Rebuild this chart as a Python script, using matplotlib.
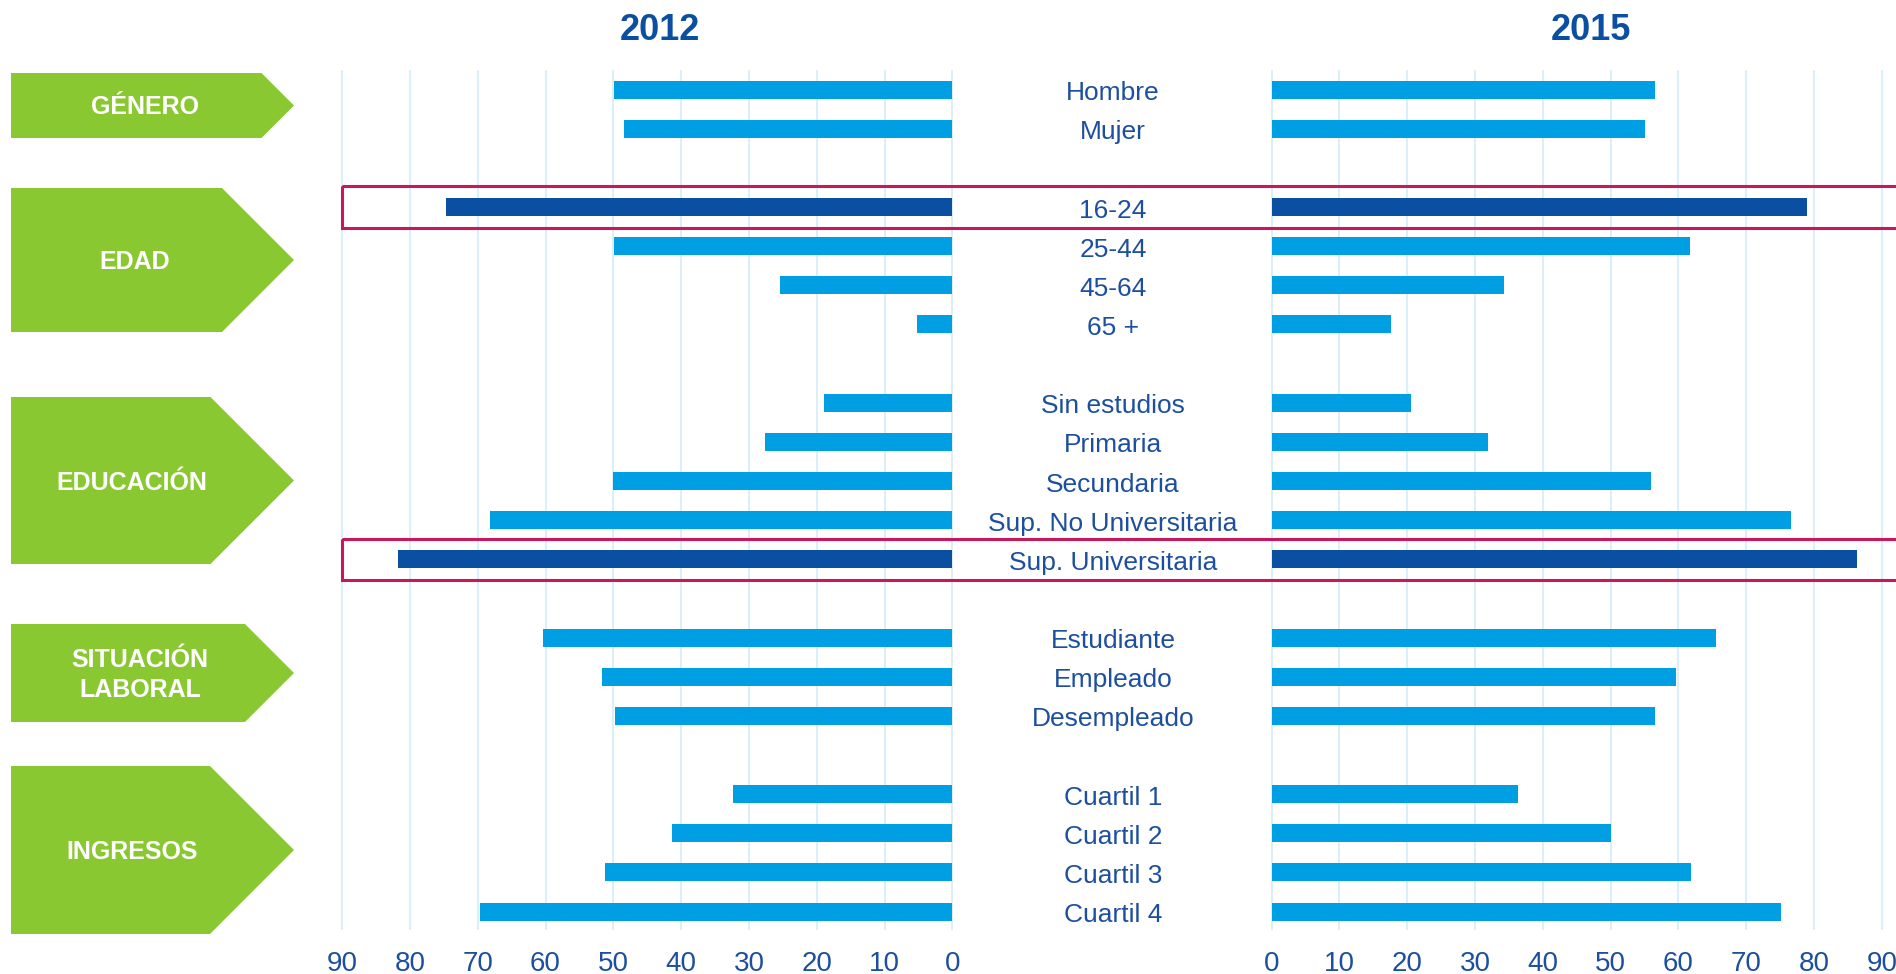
import matplotlib
matplotlib.use('Agg')
import matplotlib.pyplot as plt
import matplotlib.transforms as mtransforms
from matplotlib.patches import Polygon, Rectangle
import numpy as np

plt.rcParams['font.family'] = ['Liberation Sans', 'DejaVu Sans']

# ---------------------------------------------------------------- data
categories = ['Hombre', 'Mujer',
              '16-24', '25-44', '45-64', '65 +',
              'Sin estudios', 'Primaria', 'Secundaria',
              'Sup. No Universitaria', 'Sup. Universitaria',
              'Estudiante', 'Empleado', 'Desempleado',
              'Cuartil 1', 'Cuartil 2', 'Cuartil 3', 'Cuartil 4']
vals_2012 = [49.9, 48.4,
             74.6, 49.9, 25.4, 5.3,
             18.9, 27.6, 50.1, 68.2, 81.8,
             60.3, 51.6, 49.7,
             32.3, 41.4, 51.3, 69.6]
vals_2015 = [56.5, 55.1,
             79.0, 61.7, 34.3, 17.6,
             20.5, 31.9, 55.9, 76.6, 86.3,
             65.5, 59.6, 56.5,
             36.3, 50.0, 61.8, 75.1]
group_names = ['GÉNERO', 'EDAD', 'EDUCACIÓN', 'SITUACIÓN\nLABORAL', 'INGRESOS']
group_sizes = [2, 4, 5, 3, 4]
highlight = ['16-24', 'Sup. Universitaria']
years = ['2012', '2015']
ticks = list(range(0, 100, 10))

# ---------------------------------------------------------------- layout
W, H = 1896, 974
LIGHT = '#009fe3'
DARK = '#0a4fa2'
TEXT = '#1d4f9f'
GRID = '#d3ecf8'
RED = '#c8175d'
GREEN = '#8ac832'

# row positions: one empty row between groups
rows = []
pos = 0
for n in group_sizes:
    rows += list(range(pos, pos + n))
    pos += n + 1
rows = np.array(rows)

fig = plt.figure(figsize=(W / 100, H / 100), dpi=100)

ax_l = fig.add_axes([341 / W, 1 - 930 / H, 612.5 / W, 860 / H])
ax_r = fig.add_axes([1270.5 / W, 1 - 930 / H, 612.5 / W, 860 / H])

colors = [DARK if c in highlight else LIGHT for c in categories]

for ax, vals in [(ax_l, vals_2012), (ax_r, vals_2015)]:
    ax.barh(rows, vals, height=0.46, color=colors, zorder=3)
    ax.set_ylim(21.47, -0.5)
    ax.set_xticks(ticks)
    ax.set_xticklabels([str(t) for t in ticks], fontsize=20, color=TEXT)
    ax.tick_params(axis='x', length=0, pad=15)
    ax.set_yticks([])
    ax.grid(axis='x', color=GRID, linewidth=1.2, zorder=0)
    ax.set_axisbelow(True)
    for s in ax.spines.values():
        s.set_visible(False)

# keep the 90 / 0 gridlines visible at the edges
ax_l.set_xlim(90.15, -0.15)
ax_r.set_xlim(-0.15, 90.15)

# year titles
fig.text(660 / W, 1 - 31 / H, years[0], fontsize=26, fontweight='bold',
         color=DARK, ha='center', va='center')
fig.text(1591 / W, 1 - 31 / H, years[1], fontsize=26, fontweight='bold',
         color=DARK, ha='center', va='center')

# category labels in the middle column
trans = mtransforms.blended_transform_factory(fig.transFigure, ax_l.transData)
for r, c in zip(rows, categories):
    fig.text(1113 / W, r + 0.09, c, transform=trans, fontsize=19, color=TEXT,
             ha='center', va='center')

# highlight boxes across both panels
for c in highlight:
    r = rows[categories.index(c)]
    rect = Rectangle((342 / W, r - 0.53), 1.02 - 342 / W, 1.06,
                     transform=trans, fill=False, edgecolor=RED,
                     linewidth=2.2, clip_on=False, zorder=5)
    fig.add_artist(rect)

# green chevron group labels (pixel extents top/bottom, text centre x)
group_boxes = [(73, 138), (188, 332), (397, 564), (624, 722), (766, 934)]
group_text_x = [145, 135, 132, 140, 132]
for name, (top, bot), tx in zip(group_names, group_boxes, group_text_x):
    half = (bot - top) / 2
    mid = (top + bot) / 2
    tip = 294
    pts = [(11, top), (tip - half, top), (tip, mid), (tip - half, bot), (11, bot)]
    poly = Polygon([(x / W, 1 - y / H) for x, y in pts], closed=True,
                   transform=fig.transFigure, facecolor=GREEN, edgecolor='none')
    fig.add_artist(poly)
    fig.text(tx / W, 1 - (mid + 2) / H, name, fontsize=18, fontweight='bold',
             color='white', ha='center', va='center', linespacing=1.3)

fig.savefig('out.png', dpi=100)
